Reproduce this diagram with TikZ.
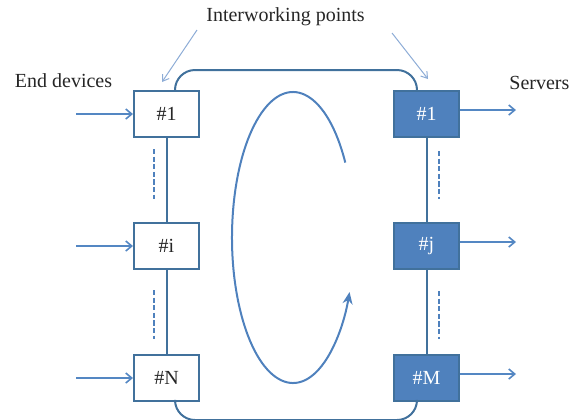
\documentclass[tikz,border=0pt]{standalone}
\usepackage{fontspec}
\setmainfont{Liberation Serif}
\usetikzlibrary{positioning,calc,arrows.meta}
\definecolor{ipline}{RGB}{65,113,156}
\definecolor{ipfill}{RGB}{79,129,189}
\definecolor{iparrow}{RGB}{84,135,195}
\definecolor{iplight}{RGB}{141,172,214}

\begin{document}
\begin{tikzpicture}[x=0.5pt,y=-0.5pt,font=\fontsize{10}{12}\selectfont,
  ipbox/.style={draw=ipline, line width=1pt, fill=white, text=black!85,
                minimum width=32.5pt, minimum height=23pt, inner sep=0pt},
  srvbox/.style={ipbox, fill=ipfill, text=white},
  link/.style={ipline, line width=1pt},
  dots/.style={ipfill, line width=1.3pt, dash pattern=on 2.6pt off 1.2pt},
  flow/.style={iparrow, line width=0.8pt, -{Straight Barb[length=3pt,width=5pt]}},
  callout/.style={iplight, line width=0.5pt, -{Straight Barb[length=3pt,width=4pt]}},
  node distance=42pt and 96.5pt]
\useasboundingbox (0,0) rectangle (569,419);

\node[ipbox] (l1) at (166.5,114) {\#1};
\node[ipbox, below=of l1] (li) {\#i};
\node[ipbox, below=of li] (lN) {\#N};
\node[srvbox, right=of l1] (r1) {\#1};
\node[srvbox, right=of li] (rj) {\#j};
\node[srvbox, right=of lN] (rM) {\#M};

\node[text=black!85] (ip) at (285.5,17) {Interworking points};
\node[text=black!85] (ed) at (63.5,81) {End devices};
\node[text=black!85, anchor=west, inner sep=0pt] (srv) at (509,83) {Servers};

\draw[link] (l1) -- (li) (li) -- (lN);
\draw[link] (r1) -- (rj) (rj) -- (rM);
\draw[dots] ([xshift=-6.25pt,yshift=-5.5pt]l1.south) -- ([xshift=-6.25pt,yshift=11.5pt]li.north);
\draw[dots] ([xshift=-6.25pt,yshift=-10pt]li.south) -- ([xshift=-6.25pt,yshift=7.5pt]lN.north);
\draw[dots] ([xshift=6.25pt,yshift=-6.5pt]r1.south) -- ([xshift=6.25pt,yshift=11.5pt]rj.north);
\draw[dots] ([xshift=6.25pt,yshift=-10.5pt]rj.south) -- ([xshift=6.25pt,yshift=7.5pt]rM.north);

\draw[link, rounded corners=10pt] ([xshift=4.25pt]l1.north) -- ++(0,10pt) -| ([xshift=-4.75pt]r1.north);
\draw[link, rounded corners=10pt] ([xshift=4.25pt]lN.south) -- ++(0,-9pt) -| ([xshift=-4.75pt]rM.south);

\foreach \n in {l1,li,lN}
  \draw[flow] ([xshift=-28.5pt]\n.west) -- (\n.west);
\foreach \n in {r1,rj,rM}
  \draw[flow] ([yshift=2pt]\n.east) -- ++(28pt,0);

\coordinate (c) at (293,237.5);
\draw[ipfill, line width=1pt, -{Stealth[length=6pt,width=5pt]}]
  ([shift={(31:30.5pt and 72.75pt)}]c)
  arc[start angle=31, end angle=338, x radius=30.5pt, y radius=72.75pt];

\coordinate (ipl) at (197,30);
\coordinate (ipr) at (392,33);
\draw[callout] (ipl) -- ([xshift=14.5pt,yshift=4pt]l1.north west);
\draw[callout] (ipr) -- ([xshift=17.5pt,yshift=5.5pt]r1.north west);
\end{tikzpicture}
\end{document}
